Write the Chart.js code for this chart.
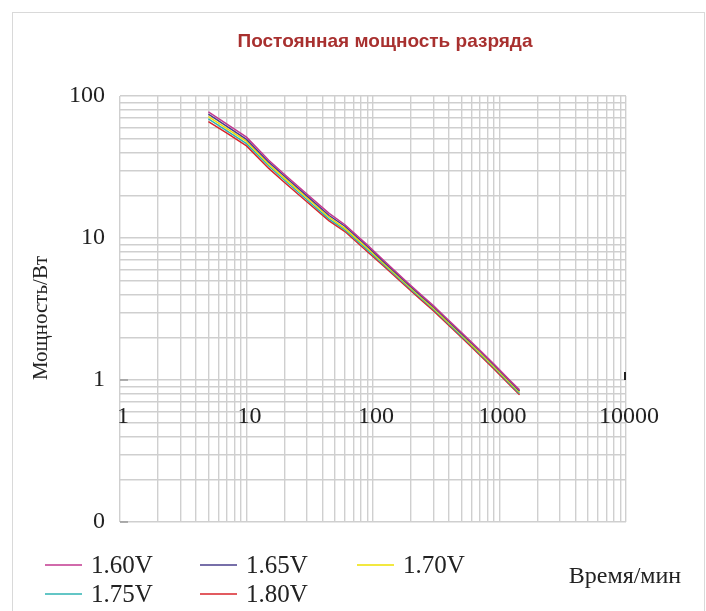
<!DOCTYPE html>
<html><head><meta charset="utf-8">
<script src="https://cdn.jsdelivr.net/npm/chart.js@4"></script>
<style>html,body{margin:0;padding:0;background:#fff;} #wrap{width:706px;height:611px;position:relative;}</style>
</head><body><div id="wrap"><canvas id="c" width="706" height="611"></canvas></div>
<script>
// Discharge time, min
const times = [5, 7, 10, 15, 20, 30, 45, 60, 90, 120, 180, 240, 300, 360, 480, 600, 720, 900, 1200, 1440];
// Constant power, W (per cell) for each end voltage
const p160 = [77.3, 63.4, 51.3, 35.3, 28.0, 20.4, 14.9, 12.4, 8.97, 7.03, 5.02, 3.98, 3.34, 2.86, 2.24, 1.85, 1.58, 1.30, 1.00, 0.853];
const p165 = [74.5, 61.2, 49.5, 34.2, 27.2, 19.8, 14.4, 12.1, 8.75, 6.87, 4.92, 3.91, 3.28, 2.81, 2.20, 1.82, 1.56, 1.28, 0.99, 0.838];
const p170 = [71.6, 59.0, 47.9, 33.1, 26.3, 19.2, 14.0, 11.7, 8.51, 6.71, 4.82, 3.83, 3.21, 2.75, 2.16, 1.78, 1.52, 1.25, 0.966, 0.820];
const p175 = [68.9, 56.9, 46.2, 32.1, 25.5, 18.6, 13.6, 11.4, 8.28, 6.56, 4.72, 3.75, 3.15, 2.70, 2.11, 1.75, 1.49, 1.23, 0.946, 0.804];
const p180 = [66.1, 54.7, 44.5, 30.9, 24.6, 18.0, 13.2, 11.1, 8.04, 6.40, 4.61, 3.67, 3.08, 2.64, 2.07, 1.71, 1.46, 1.20, 0.927, 0.787];
const seriesLabels = ['1.60V', '1.65V', '1.70V', '1.75V', '1.80V'];
const seriesColors = ['#c2398f', '#4a3f8c', '#eee000', '#2fb3b3', '#d9252b'];
const xLabelValues = [1, 10, 100, 1000, 10000];
const xLabelTexts = ['1', '10', '100', '1000', '10000'];
const yLabelValues = [0.1, 1, 10, 100];
const yLabelTexts = ['0', '1', '10', '100'];
const chartTitle = 'Постоянная мощность разряда';
const yTitle = 'Мощность/Вт';
const xTitle = 'Время/мин';

const SERIF = '"Liberation Serif", "Times New Roman", serif';
const SANS = '"Liberation Sans", Arial, sans-serif';

function logTicks(min, max) {
  const out = [];
  const e0 = Math.round(Math.log10(min)), e1 = Math.round(Math.log10(max));
  for (let e = e0; e < e1; e++) for (let m = 1; m < 10; m++) out.push({value: +(m * Math.pow(10, e)).toPrecision(6)});
  out.push({value: max});
  return out;
}
function labelFor(values, texts, v) {
  for (let i = 0; i < values.length; i++) if (Math.abs(values[i] - v) < values[i] * 1e-6) return texts[i];
  return '';
}

const allSeries = [p160, p165, p170, p175, p180];
const datasets = allSeries.map((arr, i) => ({
  label: seriesLabels[i],
  data: times.map((t, j) => ({x: t, y: arr[j]})),
  borderColor: seriesColors[i],
  backgroundColor: seriesColors[i],
  borderWidth: 1.5,
  pointRadius: 0,
  fill: false,
  tension: 0
}));

const decor = {
  id: 'decor',
  afterDraw(chart) {
    const ctx = chart.ctx;
    const xs = chart.scales.x, ys = chart.scales.y;
    ctx.save();
    // outer frame
    ctx.strokeStyle = '#d9d9d9'; ctx.lineWidth = 1;
    ctx.strokeRect(12.5, 12.5, 692, 700);
    // y tick marks
    ctx.strokeStyle = '#9a9a9a'; ctx.lineWidth = 1.5;
    [1, 0.1].forEach(v => {
      const y = ys.getPixelForValue(v);
      ctx.beginPath(); ctx.moveTo(chart.chartArea.left, y); ctx.lineTo(chart.chartArea.left + 8, y); ctx.stroke();
    });
    // x tick at right end
    ctx.strokeStyle = '#222'; ctx.lineWidth = 2;
    const xr = xs.getPixelForValue(10000), y1 = ys.getPixelForValue(1);
    ctx.beginPath(); ctx.moveTo(xr - 1, y1 - 8); ctx.lineTo(xr - 1, y1); ctx.stroke();
    // title
    ctx.fillStyle = '#a8302f';
    ctx.font = 'bold 19px ' + SANS;
    ctx.textAlign = 'center'; ctx.textBaseline = 'middle';
    ctx.fillText(chartTitle, 385, 42);
    // y title
    ctx.fillStyle = '#222';
    ctx.font = '21px ' + SERIF;
    ctx.save(); ctx.translate(41, 318); ctx.rotate(-Math.PI / 2);
    ctx.fillText(yTitle, 0, 0); ctx.restore();
    // x title
    ctx.font = '24px ' + SERIF;
    ctx.fillText(xTitle, 625, 577);
    // legend
    const cols = [45, 200, 357], rows = [565, 594];
    ctx.textAlign = 'left';
    ctx.font = '25px ' + SERIF;
    chart.data.datasets.forEach((ds, i) => {
      const cx = cols[i % 3], cy = rows[Math.floor(i / 3)];
      ctx.strokeStyle = ds.borderColor; ctx.lineWidth = 1.5;
      ctx.beginPath(); ctx.moveTo(cx, cy); ctx.lineTo(cx + 37, cy); ctx.stroke();
      ctx.fillStyle = '#222';
      ctx.fillText(ds.label, cx + 46, cy + 1);
    });
    ctx.restore();
  }
};

new Chart(document.getElementById('c'), {
  type: 'line',
  data: {datasets},
  plugins: [decor],
  options: {
    responsive: false,
    animation: false,
    devicePixelRatio: 1,
    layout: {padding: {left: 0, top: 96, right: 80, bottom: 89}},
    plugins: {legend: {display: false}, title: {display: false}, tooltip: {enabled: false}},
    scales: {
      x: {
        type: 'logarithmic', min: 1, max: 10000, position: {y: 1},
        grid: {color: '#cfcfcf', lineWidth: 1.4, drawTicks: false},
        border: {display: false},
        afterBuildTicks: s => { s.ticks = logTicks(1, 10000); },
        ticks: {autoSkip: false, maxRotation: 0, minRotation: 0, padding: 22, labelOffset: 3, color: '#222',
          font: {family: SERIF, size: 24},
          callback: v => labelFor(xLabelValues, xLabelTexts, v)}
      },
      y: {
        type: 'logarithmic', min: 0.1, max: 100, position: 'left',
        afterFit: s => { s.width = 120; },
        grid: {color: '#cfcfcf', lineWidth: 1.4, drawTicks: false},
        border: {display: false},
        afterBuildTicks: s => { s.ticks = logTicks(0.1, 100); },
        ticks: {autoSkip: false, padding: 15, color: '#222',
          font: {family: SERIF, size: 24},
          callback: v => labelFor(yLabelValues, yLabelTexts, v)}
      }
    }
  }
});
</script>
</body></html>
